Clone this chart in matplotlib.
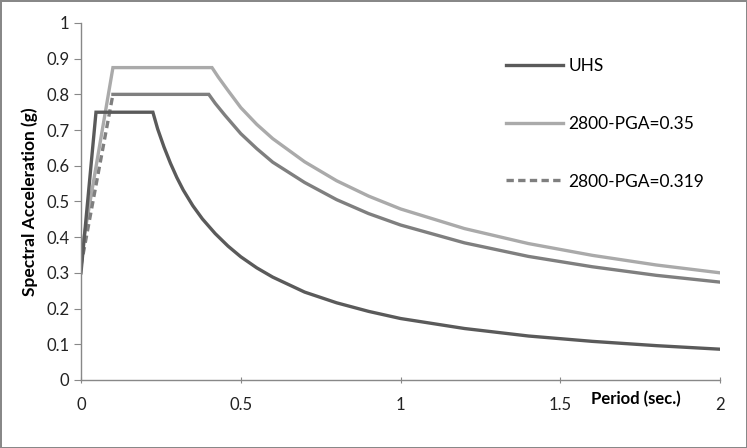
import matplotlib
matplotlib.use("Agg")
import matplotlib.pyplot as plt
from matplotlib.lines import Line2D

plt.rcParams['font.family'] = ['Lato', 'DejaVu Sans']

# UHS
uhs_t = [0.0, 0.047, 0.225, 0.24, 0.26, 0.28, 0.30, 0.32, 0.35, 0.38, 0.42, 0.46, 0.5, 0.55, 0.6, 0.7, 0.8, 0.9, 1.0, 1.2, 1.4, 1.6, 1.8, 2.0]
uhs_sa = [0.30, 0.75, 0.75, 0.703, 0.652, 0.607, 0.567, 0.532, 0.488, 0.451, 0.410, 0.375, 0.345, 0.314, 0.288, 0.246, 0.216, 0.192, 0.172, 0.144, 0.123, 0.108, 0.096, 0.086]

# 2800-PGA=0.35
p35_t = [0.0, 0.1, 0.41, 0.43, 0.46, 0.5, 0.55, 0.6, 0.7, 0.8, 0.9, 1.0, 1.2, 1.4, 1.6, 1.8, 2.0]
p35_sa = [0.35, 0.875, 0.875, 0.848, 0.811, 0.763, 0.716, 0.676, 0.611, 0.558, 0.515, 0.479, 0.424, 0.382, 0.349, 0.322, 0.300]

# 2800-PGA=0.319
p319_t = [0.0, 0.1, 0.40, 0.42, 0.45, 0.5, 0.55, 0.6, 0.7, 0.8, 0.9, 1.0, 1.2, 1.4, 1.6, 1.8, 2.0]
p319_sa = [0.32, 0.80, 0.80, 0.775, 0.742, 0.690, 0.648, 0.610, 0.553, 0.505, 0.466, 0.434, 0.384, 0.346, 0.317, 0.293, 0.274]

x_ticks = [0, 0.5, 1, 1.5, 2]
x_labels = ['0', '0.5', '1', '1.5', '2']
y_ticks = [0, 0.1, 0.2, 0.3, 0.4, 0.5, 0.6, 0.7, 0.8, 0.9, 1]
y_labels = ['0', '0.1', '0.2', '0.3', '0.4', '0.5', '0.6', '0.7', '0.8', '0.9', '1']

c_uhs = '#5a5a5a'
c_35 = '#aaaaaa'
c_319 = '#7f7f7f'
lw = 2.4
dash = (0, (2.2, 1.3))

fig = plt.figure(figsize=(7.47, 4.48), dpi=100)
fig.patch.set_edgecolor('#888888')
fig.patch.set_linewidth(2)
ax = fig.add_axes([0.1084, 0.152, 0.8556, 0.7967])

ax.plot(p35_t, p35_sa, color=c_35, lw=lw, solid_joinstyle='miter')
ax.plot(p319_t[1:], p319_sa[1:], color=c_319, lw=lw, solid_joinstyle='miter')
ax.plot(p319_t[:2], p319_sa[:2], color=c_319, lw=lw, linestyle=dash)
ax.plot(uhs_t, uhs_sa, color=c_uhs, lw=lw, solid_joinstyle='miter')

ax.set_xlim(0, 2)
ax.set_ylim(0, 1)
ax.set_xticks(x_ticks)
ax.set_xticklabels(x_labels)
ax.set_yticks(y_ticks)
ax.set_yticklabels(y_labels)
ax.tick_params(axis='both', labelsize=12, colors='#222222', length=5, width=0.8)
ax.tick_params(axis='x', direction='inout', pad=10, color='#888888')
ax.tick_params(axis='y', direction='out', color='#888888')
for s in ['top', 'right']:
    ax.spines[s].set_visible(False)
for s in ['left', 'bottom']:
    ax.spines[s].set_color('#888888')
    ax.spines[s].set_linewidth(1)

ax.set_ylabel('Spectral Acceleration (g)', fontsize=12.5, fontweight='bold', labelpad=6)
ax.text(0.868, -0.055, 'Period (sec.)', transform=ax.transAxes, fontsize=12,
        fontweight='bold', ha='center', va='center')

handles = [Line2D([], [], color=c_uhs, lw=lw),
           Line2D([], [], color=c_35, lw=lw),
           Line2D([], [], color=c_319, lw=lw, linestyle=dash)]
labels = ['UHS', '2800-PGA=0.35', '2800-PGA=0.319']
ax.legend(handles, labels, loc='upper left', bbox_to_anchor=(0.64, 0.945),
          frameon=False, fontsize=12.5, labelspacing=2.4, handlelength=3.3,
          handletextpad=0.3)

fig.savefig('out.png', dpi=100, edgecolor=fig.get_edgecolor())
